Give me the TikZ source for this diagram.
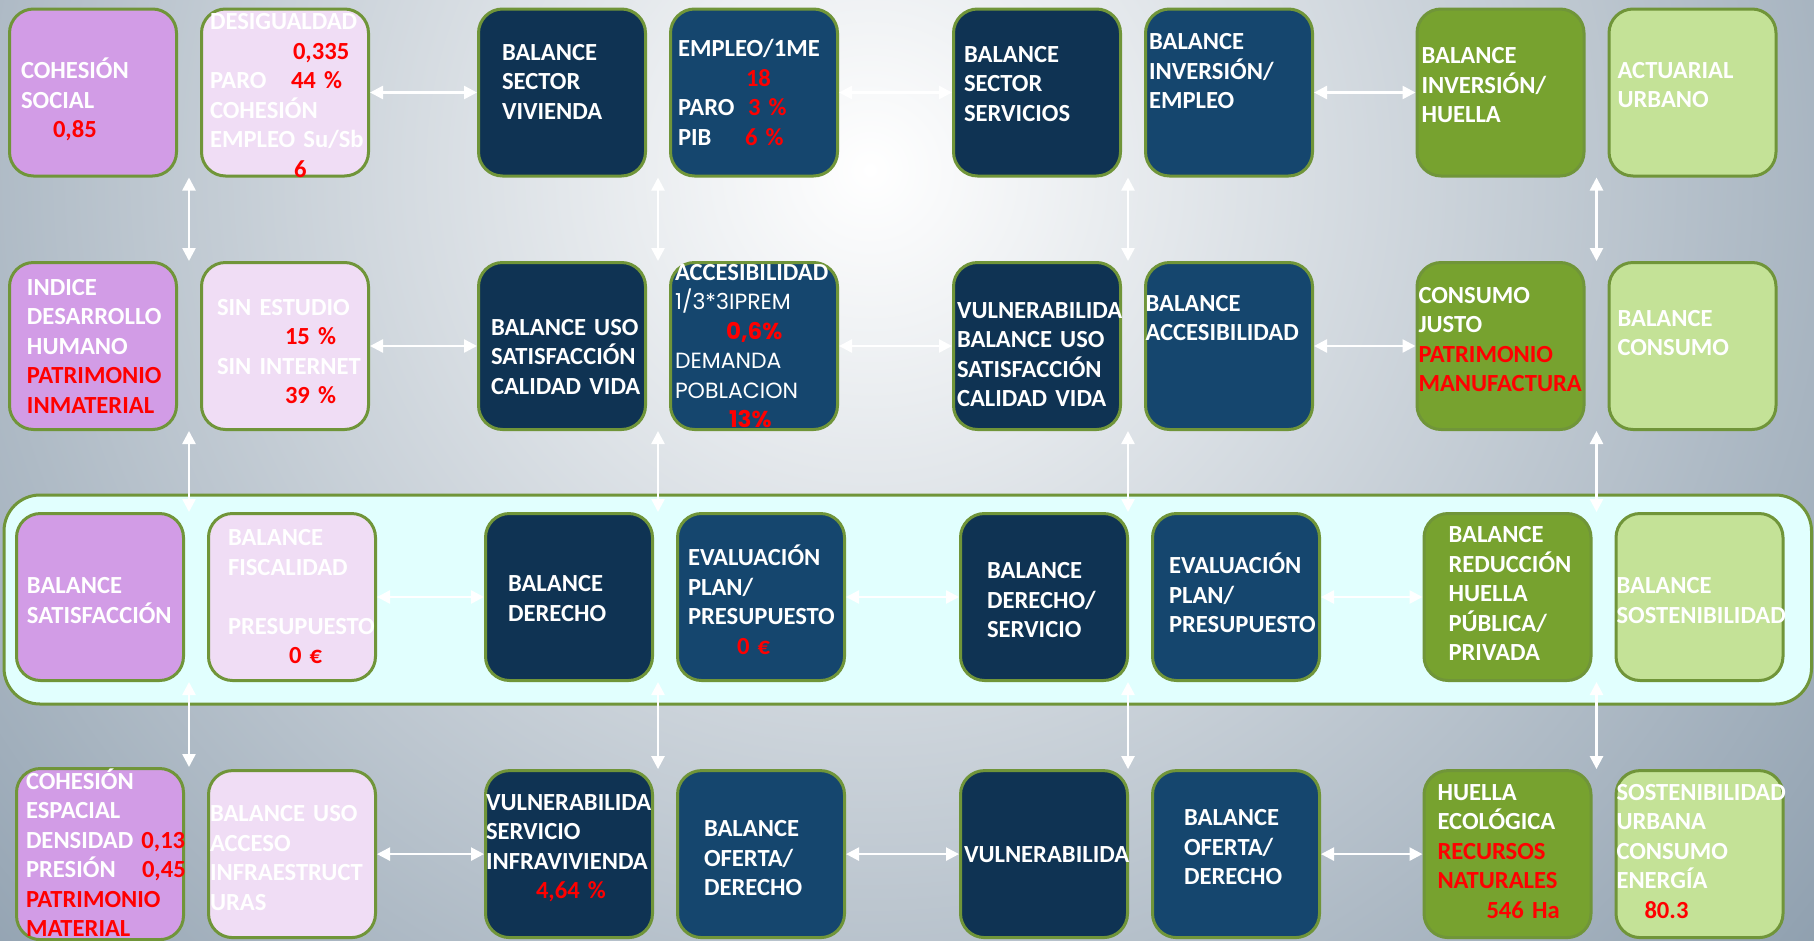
\documentclass[tikz,border=0pt]{standalone}
\usepackage{fontspec}
\setmainfont{Carlito}
\newfontfamily\geofont{Poppins}
\usepackage{xcolor}
\usepackage{tikz}
\usetikzlibrary{arrows.meta,positioning,backgrounds,calc}
\definecolor{rim}{HTML}{709539}
\definecolor{orchid}{HTML}{D29CE6}
\definecolor{petal}{HTML}{F0DDF5}
\definecolor{abyss}{HTML}{0F3353}
\definecolor{harbor}{HTML}{15466E}
\definecolor{moss}{HTML}{77A22F}
\definecolor{sprout}{HTML}{C4E297}
\definecolor{ice}{HTML}{E1FFFE}
\definecolor{slate}{HTML}{3B5873}
\definecolor{alarm}{HTML}{FF0000}
\newcommand{\hot}[1]{\textcolor{alarm}{#1}}
\newcommand{\vnudge}[1]{\par\kern#1\kern#1}
\uchyph=0
\hyphenpenalty=10000

\begin{document}
\begin{tikzpicture}[
  box/.style={draw=rim, line width=3pt, rounded corners=24pt, minimum width=167pt, minimum height=167pt, inner ysep=0pt, inset=8.5pt, align=left, text=white, font=\bfseries\fontsize{24.6}{29.5}\selectfont},
  inset/.style={inner xsep=#1, text width=167pt-2*#1},
  link/.style={{Triangle[width=13pt,length=13pt]}-{Triangle[width=13pt,length=13pt]}, draw=white, line width=2.5pt},
  band/.style={draw=rim, line width=3pt, fill=ice, rounded corners=36pt},
  node distance=83.5pt and 22pt
]
  \useasboundingbox (0,0) rectangle (1814pt,-940pt);

  \node[box, fill=orchid, inset=11.5pt] (c11) at (93pt,-92.5pt) {COHESIÓN\\SOCIAL\\\hspace*{32pt}\hot{0,85}\vnudge{-7pt}};
  \node[box, fill=petal, inset=8.5pt, right=of c11] (c12) {DESIGUALDAD\\\hspace*{83pt}\hot{0,335}\\\makebox[81pt][l]{PARO}\hot{44~\%}\\COHESIÓN\\EMPLEO~Su/Sb\\\hspace*{84pt}\hot{6}\vnudge{-3pt}};
  \node[box, fill=abyss, inset=23.5pt, right=107pt of c12] (c13) {BALANCE\\SECTOR\\VIVIENDA\vnudge{11pt}};
  \node[box, fill=harbor, inset=7.5pt, right=of c13] (c14) {EMPLEO/1ME\\\hspace*{68pt}\hot{18}\\\makebox[70pt][l]{PARO}\hot{3~\%}\\\makebox[67pt][l]{PIB}\hot{6~\%}};
  \node[box, fill=abyss, inset=10.5pt, right=113pt of c14] (c15) {BALANCE\\SECTOR\\SERVICIOS\vnudge{8.5pt}};
  \node[box, fill=harbor, inset=3.5pt, right=of c15] (c16) {BALANCE\\INVERSIÓN/\\EMPLEO\vnudge{21pt}};
  \node[box, fill=moss, inset=4.5pt, right=101.5pt of c16] (c17) {BALANCE\\INVERSIÓN/\\HUELLA\vnudge{7pt}};
  \node[box, fill=sprout, inset=8.5pt, right=of c17] (c18) {ACTUARIAL\\URBANO\vnudge{7.5pt}};

  \node[box, fill=orchid, inset=17.5pt, below=of c11] (c21) {INDICE\\DESARROLLO\\HUMANO\\\hot{PATRIMONIO}\\\hot{INMATERIAL}};
  \node[box, fill=petal, inset=15.5pt, right=of c21] (c22) {SIN~ESTUDIO\\\hspace*{68pt}\hot{15~\%}\\SIN~INTERNET\\\hspace*{68pt}\hot{39~\%}\vnudge{-5.5pt}};
  \node[box, fill=abyss, inset=12.5pt, right=107pt of c22] (c23) {BALANCE~USO\\SATISFACCIÓN\\CALIDAD~VIDA\vnudge{-11pt}};
  \node[box, fill=harbor, inset=4.5pt, right=of c23] (c24) {ACCESIBILIDAD\\{\geofont\mdseries\fontsize{22}{29.5}\selectfont 1/3*3IPREM}\\\hspace*{51pt}{\geofont\fontsize{23}{29.5}\selectfont\hot{0,6\%}}\\{\geofont\mdseries\fontsize{22}{29.5}\selectfont DEMANDA}\\{\geofont\mdseries\fontsize{22}{29.5}\selectfont POBLACION}\\\hspace*{54pt}{\geofont\fontsize{23}{29.5}\selectfont\hot{13\%}}};
  \node[box, fill=abyss, inset=3.5pt, right=113pt of c24] (c25) {VULNERABILIDA\\BALANCE~USO\\SATISFACCIÓN\\CALIDAD~VIDA\vnudge{-8.5pt}};
  \node[box, fill=harbor, inset=0pt, right=of c25] (c26) {BALANCE\\ACCESIBILIDAD\vnudge{28pt}};
  \node[box, fill=moss, inset=1.5pt, right=101.5pt of c26] (c27) {CONSUMO\\JUSTO\\\hot{PATRIMONIO}\\\hot{MANUFACTURA}\vnudge{6.5pt}};
  \node[box, fill=sprout, inset=8.5pt, right=of c27] (c28) {BALANCE\\CONSUMO\vnudge{13pt}};

  \node[box, fill=orchid, inset=10.5pt, below=81pt of c21, xshift=7pt] (c31) {BALANCE\\SATISFACCIÓN\vnudge{-3.5pt}};
  \node[box, fill=petal, inset=19.5pt, right=of c31] (c32) {BALANCE\\FISCALIDAD\\[29.5pt]PRESUPUESTO\\\hspace*{61pt}\hot{0~€}};
  \node[box, fill=abyss, inset=22.5pt, right=107pt of c32] (c33) {BALANCE\\DERECHO\vnudge{-1.5pt}};
  \node[box, fill=harbor, inset=10.5pt, right=of c33] (c34) {EVALUACIÓN\\PLAN/\\PRESUPUESTO\\\hspace*{49pt}\hot{0~€}\vnudge{-2.5pt}};
  \node[box, fill=abyss, inset=26.5pt, right=113pt of c34] (c35) {BALANCE\\DERECHO/\\SERVICIO\vnudge{-3.5pt}};
  \node[box, fill=harbor, inset=16.5pt, right=of c35] (c36) {EVALUACIÓN\\PLAN/\\PRESUPUESTO\vnudge{4pt}};
  \node[box, fill=moss, inset=24.5pt, right=101.5pt of c36] (c37) {BALANCE\\REDUCCIÓN\\HUELLA\\PÚBLICA/\\PRIVADA\vnudge{3.5pt}};
  \node[box, fill=sprout, inset=0.5pt, right=of c37] (c38) {BALANCE\\SOSTENIBILIDAD\vnudge{-3.5pt}};

  \node[box, fill=orchid, inset=9.5pt, below=85pt of c31] (c41) {COHESIÓN\\ESPACIAL\\DENSIDAD~\hot{0,13}\\\makebox[116pt][l]{PRESIÓN}\hot{0,45}\\\hot{PATRIMONIO}\\\hot{MATERIAL}\vnudge{1.5pt}};
  \node[box, fill=petal, inset=1.5pt, right=of c41] (c42) {BALANCE~USO\\ACCESO\\INFRAESTRUCT\\URAS\vnudge{-4pt}};
  \node[box, fill=abyss, inset=0.5pt, right=107pt of c42] (c43) {VULNERABILIDA\\SERVICIO\\INFRAVIVIENDA\\\hspace*{50pt}\hot{4,64~\%}\vnudge{6pt}};
  \node[box, fill=harbor, inset=26.5pt, right=of c43] (c44) {BALANCE\\OFERTA/\\DERECHO\vnudge{-4pt}};
  \node[box, fill=abyss, inset=3.5pt, right=113pt of c44] (c45) {VULNERABILIDA\vnudge{-3pt}};
  \node[box, fill=harbor, inset=31.5pt, right=of c45] (c46) {BALANCE\\OFERTA/\\DERECHO\vnudge{7pt}};
  \node[box, fill=moss, inset=13.5pt, right=101.5pt of c46] (c47) {HUELLA\\ECOLÓGICA\\\hot{RECURSOS}\\\hot{NATURALES}\\\hspace*{49pt}\hot{546~Ha}\vnudge{2.5pt}};
  \node[box, fill=sprout, inset=0.5pt, right=of c47] (c48) {SOSTENIBILIDAD\\URBANA\\CONSUMO\\ENERGÍA\\\hspace*{28pt}\hot{80.3}\vnudge{3pt}};

  \coordinate (g1) at ($(c11.east)!0.5!(c12.west)$);
  \coordinate (g2) at ($(c13.east)!0.5!(c14.west)$);
  \coordinate (g3) at ($(c15.east)!0.5!(c16.west)+(-5pt,0)$);
  \coordinate (g4) at ($(c17.east)!0.5!(c18.west)$);

  \draw[link] (c12) -- (c13);
  \draw[link] (c14) -- (c15);
  \draw[link] (c16) -- (c17);
  \draw[link] (c22) -- (c23);
  \draw[link] (c24) -- (c25);
  \draw[link] (c26) -- (c27);
  \draw[link] (c32) -- (c33);
  \draw[link] (c34) -- (c35);
  \draw[link] (c36) -- (c37);
  \draw[link] (c42) -- (c43);
  \draw[link] (c44) -- (c45);
  \draw[link] (c46) -- (c47);

  \draw[link] (g1 |- c11.south) -- (g1 |- c21.north);
  \draw[link] (g1 |- c21.south) -- (g1 |- c31.north);
  \draw[link] (g1 |- c31.south) -- (g1 |- c41.north);
  \draw[link] (g2 |- c13.south) -- (g2 |- c23.north);
  \draw[link] (g2 |- c23.south) -- (g2 |- c33.north);
  \draw[link] (g2 |- c33.south) -- (g2 |- c43.north);
  \draw[link] (g3 |- c15.south) -- (g3 |- c25.north);
  \draw[link] (g3 |- c25.south) -- (g3 |- c35.north);
  \draw[link] (g3 |- c35.south) -- (g3 |- c45.north);
  \draw[link] (g4 |- c17.south) -- (g4 |- c27.north);
  \draw[link] (g4 |- c27.south) -- (g4 |- c37.north);
  \draw[link] (g4 |- c37.south) -- (g4 |- c47.north);

  \begin{scope}[on background layer]
    \clip (0,0) rectangle (1814pt,-940pt);
    \shade[inner color=white, outer color=slate] (870pt,-170pt) circle (2150pt);
    \draw[band] ($(c31.north west)+(-11pt,17pt)$) rectangle ($(c38.south east)+(27pt,-22pt)$);
  \end{scope}
\end{tikzpicture}
\end{document}
